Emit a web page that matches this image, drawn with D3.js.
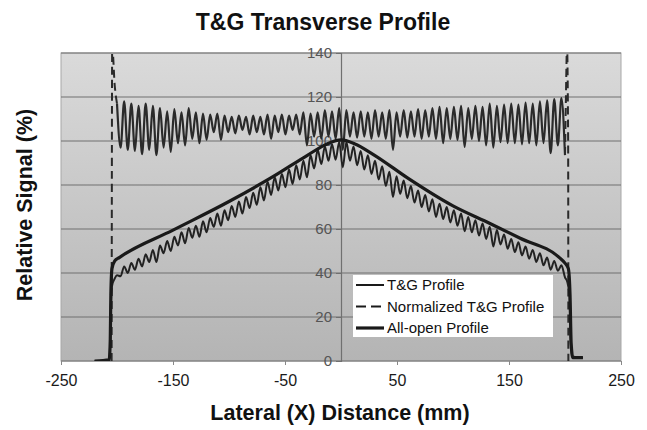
<!DOCTYPE html>
<html>
<head>
<meta charset="utf-8">
<script src="https://cdn.jsdelivr.net/npm/d3@7"></script>
<style>
  body { margin: 0; background: #fff; }
  svg { font-family: "Liberation Sans", Arial, sans-serif; }
</style>
</head>
<body>
<div id="chart"></div>
<script>
const xTicks = [-250, -150, -50, 50, 150, 250];
const yTicks = [0, 20, 40, 60, 80, 100, 120, 140];

// lateral positions (mm) of the sampled peaks / troughs inside the field
const sampleX = [
  -200, -196.8, -193.6, -190.4, -187.2, -184, -180.8, -177.6, -174.4, -171.2,
  -168, -164.8, -161.6, -158.4, -155.2, -152, -148.8, -145.6, -142.4, -139.2,
  -136, -132.8, -129.6, -126.4, -123.2, -120, -116.8, -113.6, -110.4, -107.2,
  -104, -100.8, -97.6, -94.4, -91.2, -88, -84.8, -81.6, -78.4, -75.2,
  -72, -68.8, -65.6, -62.4, -59.2, -56, -52.8, -49.6, -46.4, -43.2,
  -40, -36.8, -33.6, -30.4, -27.2, -24, -20.8, -17.6, -14.4, -11.2,
  -8, -4.8, -1.6, 1.6, 4.8, 8, 11.2, 14.4, 17.6, 20.8,
  24, 27.2, 30.4, 33.6, 36.8, 40, 43.2, 46.4, 49.6, 52.8,
  56, 59.2, 62.4, 65.6, 68.8, 72, 75.2, 78.4, 81.6, 84.8,
  88, 91.2, 94.4, 97.6, 100.8, 104, 107.2, 110.4, 113.6, 116.8,
  120, 123.2, 126.4, 129.6, 132.8, 136, 139.2, 142.4, 145.6, 148.8,
  152, 155.2, 158.4, 161.6, 164.8, 168, 171.2, 174.4, 177.6, 180.8,
  184, 187.2, 190.4, 193.6, 196.8, 200
];

const tgValues = [
  39, 38.5, 43, 40, 44.5, 41.5, 46.5, 43, 48.5, 45,
  50.5, 45, 52.5, 49, 54.5, 50, 56.5, 52.5, 58.5, 53.5,
  60.5, 56, 61.5, 56.5, 63.5, 58.5, 65, 61, 67, 61.5,
  68.5, 64, 70.5, 65.5, 72.5, 67, 74.5, 69.5, 76.5, 71,
  79, 73, 81.5, 75.5, 83.5, 77.5, 85, 79, 87, 80.5,
  89, 82.5, 91, 83.5, 93.5, 87.5, 96, 89.5, 97.5, 91,
  98.5, 91.5, 99.5, 88, 99.5, 91, 97.5, 89, 95.5, 87,
  93.5, 85, 91, 82.5, 88.5, 79.5, 86, 74.5, 84, 76,
  82, 74, 79.5, 72, 77.5, 70, 75.5, 68, 73.5, 65.5,
  71.5, 64.5, 70, 63, 68.5, 61.5, 67, 59, 65.5, 58.5,
  64, 57, 62.5, 55.5, 61, 52, 59.5, 53, 57.5, 51,
  55.5, 49.5, 54, 48, 52, 46.5, 50.5, 45, 49, 43.5,
  47, 41.5, 45.5, 41, 43.5, 38
];

const normValues = [
  117, 97, 118, 96, 117, 95.5, 116, 94, 117, 96,
  116, 93.6, 115, 97, 113.5, 95, 114.5, 99, 113, 98,
  115, 101, 113, 99, 112.5, 100.5, 112, 104, 112.5, 100.5,
  111.5, 104, 111, 103.5, 111.5, 105, 111, 103, 111.5, 104,
  111, 103, 112, 101, 111.5, 104, 112, 103, 111.5, 105,
  112, 103, 113, 98, 112.5, 102, 113, 101, 114, 102,
  113.5, 101, 115, 96, 114, 102, 113, 101.5, 113.5, 102,
  113, 101, 114, 102, 113, 101, 114, 96, 113, 102,
  114, 101.5, 113.5, 102, 114.5, 101, 114, 102, 115, 101,
  115.5, 99, 115, 101, 115.5, 100.5, 116, 97.3, 115, 101,
  116, 100, 115.5, 98, 117, 97, 116, 99.5, 116.5, 99,
  117, 99, 116.5, 98.5, 117.5, 99, 117, 98, 118, 99,
  118.5, 94.5, 119, 98, 119.5, 93.6
];

// field edges (penumbra) of the T&G profile
const tgLeftX = [-220, -207, -206, -205.5, -204.5, -202];
const tgLeftY = [0, 0.5, 10, 25, 34, 37.5];
const tgRightX = [202, 204, 205, 206.5, 216];
const tgRightY = [36, 30, 10, 2, 1.5];

// edges of the normalized profile
const normLeftX = [-204.8, -204.3, -202];
const normLeftY = [0, 143, 125];
const normRightX = [200.8, 201.8, 202.8, 203];
const normRightY = [119, 143, 100, 0];

// all-open profile (smooth)
const openX = [-220, -207, -206, -205.5, -204.5, -202, -198, -150, -100, -60, -30, -12, 0,
  12, 30, 60, 100, 133, 160, 195, 200, 203, 204.5, 205.5, 207, 216];
const openY = [0, 0.5, 10, 30, 42, 45.5, 47, 59.5, 72.5, 84, 93.5, 98.8, 100.5,
  98.8, 93.5, 83, 70.5, 62.5, 55.8, 47, 44.5, 42, 30, 8, 1.5, 1.5];

const legendItems = ['T&G Profile', 'Normalized T&G Profile', 'All-open Profile'];

const width = 647;
const height = 430;
const plot = { left: 61, right: 621, top: 53, bottom: 361 };

const svg = d3.select('#chart').append('svg')
  .attr('width', width)
  .attr('height', height);

const xScale = d3.scaleLinear().domain([-250, 250]).range([plot.left, plot.right]);
const yScale = d3.scaleLinear().domain([0, 140]).range([plot.bottom, plot.top]);

const defs = svg.append('defs');
const grad = defs.append('linearGradient')
  .attr('id', 'bg')
  .attr('x1', 0).attr('y1', 0).attr('x2', 0).attr('y2', 1);
grad.append('stop').attr('offset', '0%').attr('stop-color', '#dadada');
grad.append('stop').attr('offset', '100%').attr('stop-color', '#b4b4b4');

defs.append('clipPath').attr('id', 'clip')
  .append('rect')
  .attr('x', plot.left)
  .attr('y', plot.top)
  .attr('width', plot.right - plot.left)
  .attr('height', plot.bottom - plot.top);

svg.append('rect')
  .attr('x', plot.left)
  .attr('y', plot.top)
  .attr('width', plot.right - plot.left)
  .attr('height', plot.bottom - plot.top)
  .attr('fill', 'url(#bg)')
  .attr('stroke', '#a8a8a8');

// horizontal grid
svg.append('g')
  .selectAll('line')
  .data(yTicks)
  .enter()
  .append('line')
  .attr('x1', plot.left)
  .attr('x2', plot.right)
  .attr('y1', (d) => yScale(d))
  .attr('y2', (d) => yScale(d))
  .attr('stroke', '#707070')
  .attr('stroke-width', 1.2);

// x axis
const xAxis = svg.append('g')
  .attr('transform', `translate(0, ${plot.bottom})`)
  .call(d3.axisBottom(xScale).tickValues(xTicks).tickSize(4).tickPadding(10).tickFormat((d) => String(d)));
xAxis.select('.domain').remove();
xAxis.selectAll('line').attr('stroke', '#888');
xAxis.selectAll('text')
  .attr('font-size', '16px')
  .attr('font-family', '"Liberation Sans", Arial, sans-serif')
  .attr('fill', '#1a1a1a');

// y axis at x = 0
const yAxis = svg.append('g')
  .attr('transform', `translate(${xScale(0)}, 0)`)
  .call(d3.axisLeft(yScale).tickValues(yTicks).tickSize(5).tickPadding(4));
yAxis.select('.domain').attr('stroke', '#707070').attr('stroke-width', 1.2);
yAxis.selectAll('line').attr('stroke', '#707070');
yAxis.selectAll('text')
  .attr('font-size', '15px')
  .attr('font-family', '"Liberation Sans", Arial, sans-serif')
  .attr('fill', '#555');

const line = d3.line()
  .x((d) => xScale(d[0]))
  .y((d) => yScale(d[1]))
  .curve(d3.curveMonotoneX);

const zip = (xs, ys) => xs.map((x, i) => [x, ys[i]]);

const tgData = zip(tgLeftX, tgLeftY).concat(zip(sampleX, tgValues), zip(tgRightX, tgRightY));
const normSamples = zip(sampleX, normValues);
const openData = zip(openX, openY);

const curves = svg.append('g').attr('clip-path', 'url(#clip)');

// normalized profile: the dense ripple reads as solid, the steep edges as dashes
const normLeft = zip(normLeftX, normLeftY).concat([normSamples[0]]);
const normRight = [normSamples[normSamples.length - 1]].concat(zip(normRightX, normRightY));
curves.selectAll('.norm-edge')
  .data([normLeft, normRight])
  .enter()
  .append('path')
  .attr('class', 'norm-edge')
  .attr('d', line)
  .attr('fill', 'none')
  .attr('stroke', '#2a2a2a')
  .attr('stroke-width', 2)
  .attr('stroke-dasharray', '8,5');

curves.append('path')
  .datum(normSamples)
  .attr('d', line)
  .attr('fill', 'none')
  .attr('stroke', '#2a2a2a')
  .attr('stroke-width', 2.2);

curves.append('path')
  .datum(tgData)
  .attr('d', line)
  .attr('fill', 'none')
  .attr('stroke', '#222')
  .attr('stroke-width', 2);

curves.append('path')
  .datum(openData)
  .attr('d', line)
  .attr('fill', 'none')
  .attr('stroke', '#1a1a1a')
  .attr('stroke-width', 3.2);

// legend
const legend = svg.append('g').attr('transform', 'translate(353, 275)');
legend.append('rect')
  .attr('width', 200)
  .attr('height', 62)
  .attr('fill', '#fff');

const styles = [
  { w: 2, dash: null },
  { w: 2, dash: '10,5' },
  { w: 3.2, dash: null }
];

legend.selectAll('.item')
  .data(legendItems)
  .enter()
  .append('g')
  .attr('class', 'item')
  .attr('transform', (d, i) => `translate(0, ${10 + i * 21.5})`)
  .each(function (d, i) {
    const g = d3.select(this);
    g.append('line')
      .attr('x1', 3)
      .attr('x2', 31)
      .attr('stroke', '#1a1a1a')
      .attr('stroke-width', styles[i].w)
      .attr('stroke-dasharray', styles[i].dash);
    g.append('text')
      .attr('x', 34)
      .attr('dy', '0.35em')
      .attr('font-size', '15px')
      .attr('fill', '#111')
      .text(d);
  });

svg.append('text')
  .attr('x', 323)
  .attr('y', 30)
  .attr('text-anchor', 'middle')
  .attr('font-size', '23px')
  .attr('font-weight', 'bold')
  .attr('fill', '#111')
  .text('T&G Transverse Profile');

svg.append('text')
  .attr('x', 340)
  .attr('y', 420)
  .attr('text-anchor', 'middle')
  .attr('font-size', '21.5px')
  .attr('font-weight', 'bold')
  .attr('fill', '#111')
  .text('Lateral (X) Distance (mm)');

svg.append('text')
  .attr('transform', 'rotate(-90)')
  .attr('x', -205)
  .attr('y', 32)
  .attr('text-anchor', 'middle')
  .attr('font-size', '21.5px')
  .attr('font-weight', 'bold')
  .attr('fill', '#111')
  .text('Relative Signal (%)');
</script>
</body>
</html>
